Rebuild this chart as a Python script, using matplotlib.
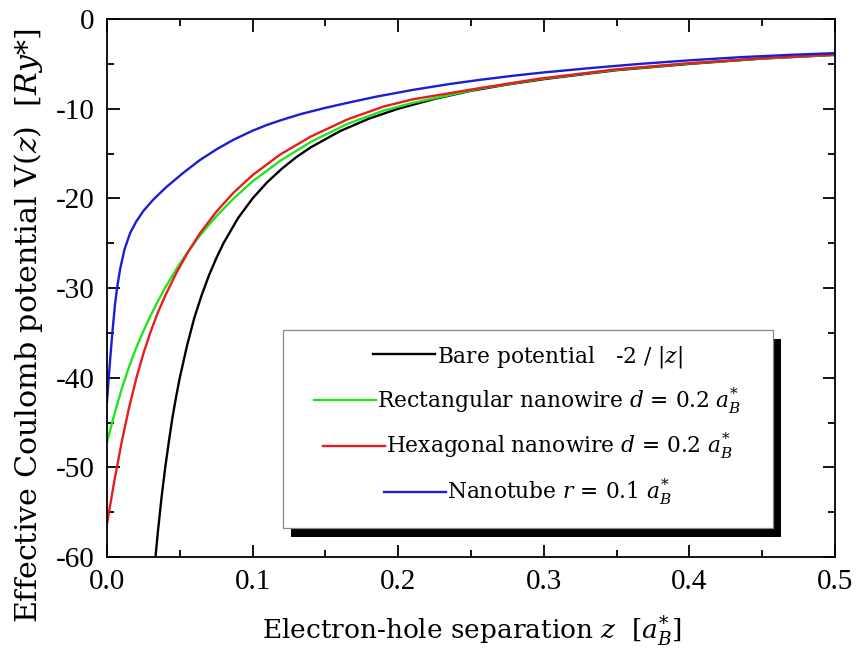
import matplotlib
matplotlib.use("Agg")
import matplotlib.pyplot as plt
from matplotlib.patches import Rectangle

# values
bare_z = [0.0333, 0.035, 0.0375, 0.04, 0.0425, 0.045, 0.0475, 0.05, 0.055, 0.06, 0.065, 0.07,
          0.075, 0.08, 0.09, 0.1, 0.11, 0.12, 0.13, 0.14, 0.16, 0.18, 0.2, 0.225, 0.25, 0.275,
          0.3, 0.35, 0.4, 0.45, 0.5]
bare_v = [-60.0, -57.1, -53.3, -50.0, -47.1, -44.4, -42.1, -40.0, -36.4, -33.3, -30.8, -28.6,
          -26.7, -25.0, -22.2, -20.0, -18.2, -16.7, -15.4, -14.3, -12.5, -11.1, -10.0, -8.9,
          -8.0, -7.3, -6.7, -5.7, -5.0, -4.4, -4.0]

rect_z = [0.0, 0.005, 0.01, 0.015, 0.02, 0.025, 0.03, 0.035, 0.04, 0.048, 0.056, 0.064,
          0.075, 0.087, 0.1, 0.119, 0.14, 0.165, 0.19, 0.21, 0.256, 0.297, 0.35, 0.4, 0.45, 0.5]
rect_v = [-47.2, -44.1, -41.3, -38.85, -36.7, -34.8, -33.05, -31.45, -29.95, -27.8, -25.85,
          -24.1, -22.0, -20.0, -18.1, -15.8, -13.7, -11.7, -10.2, -9.35, -7.75, -6.7, -5.65,
          -4.95, -4.4, -3.98]

hex_z = [0.0, 0.005, 0.01, 0.015, 0.02, 0.025, 0.03, 0.035, 0.04, 0.048, 0.056, 0.064,
         0.075, 0.087, 0.1, 0.119, 0.14, 0.165, 0.19, 0.21, 0.256, 0.297, 0.35, 0.4, 0.45, 0.5]
hex_v = [-56.3, -51.55, -47.25, -43.45, -40.15, -37.3, -34.85, -32.7, -30.85, -28.2, -25.9,
         -23.85, -21.5, -19.35, -17.4, -15.1, -13.1, -11.2, -9.75, -8.95, -7.7, -6.65, -5.6,
         -4.92, -4.38, -3.95]

tube_z = [0.0, 0.001, 0.002, 0.003, 0.004, 0.0055, 0.007, 0.009, 0.012, 0.0158, 0.02, 0.025,
          0.032, 0.041, 0.052, 0.064, 0.076, 0.087, 0.1, 0.11, 0.12, 0.133, 0.15, 0.165, 0.185,
          0.21, 0.235, 0.256, 0.28, 0.3, 0.333, 0.366, 0.4, 0.435, 0.47, 0.5]
tube_v = [-42.7, -40.4, -38.3, -36.3, -34.4, -31.8, -29.9, -27.9, -25.7, -23.9, -22.6, -21.4,
          -20.1, -18.7, -17.2, -15.7, -14.45, -13.45, -12.45, -11.8, -11.25, -10.6, -9.9, -9.35,
          -8.65, -7.9, -7.25, -6.78, -6.3, -5.95, -5.45, -5.0, -4.6, -4.25, -3.98, -3.8]

labels = [r"Bare potential   -2 / |$z$|",
          r"Rectangular nanowire $d$ = 0.2 $a_B^{*}$",
          r"Hexagonal nanowire $d$ = 0.2 $a_B^{*}$",
          r"Nanotube $r$ = 0.1 $a_B^{*}$"]
colors = ['black', '#1ee61e', '#e81c1c', '#1c1cd4']

text_font = 'DejaVu Serif'
plt.rcParams['font.family'] = ['Liberation Serif', 'DejaVu Serif']
plt.rcParams['mathtext.fontset'] = 'custom'
plt.rcParams['mathtext.rm'] = text_font
plt.rcParams['mathtext.it'] = text_font + ':italic'
plt.rcParams['axes.unicode_minus'] = False

fig = plt.figure(figsize=(8.56, 6.58), dpi=100)
ax = fig.add_axes([0.125, 0.1535, 0.8505, 0.8175])

lw = 1.7
ax.plot(bare_z, bare_v, color=colors[0], lw=lw, label=labels[0])
ax.plot(rect_z, rect_v, color=colors[1], lw=lw, label=labels[1])
ax.plot(hex_z, hex_v, color=colors[2], lw=lw, label=labels[2])
ax.plot(tube_z, tube_v, color=colors[3], lw=lw, label=labels[3])

ax.set_xlim(0, 0.5)
ax.set_ylim(-60, 0)
ax.set_xticks([0.0, 0.1, 0.2, 0.3, 0.4, 0.5])
ax.set_xticklabels(['0.0', '0.1', '0.2', '0.3', '0.4', '0.5'])
ax.set_xticks([0.05, 0.15, 0.25, 0.35, 0.45], minor=True)
ax.set_yticks([0, -10, -20, -30, -40, -50, -60])
ax.set_yticks([-5, -15, -25, -35, -45, -55], minor=True)
ax.tick_params(which='both', direction='in', top=True, right=True, width=1.3,
               labelsize=21)
ax.tick_params(which='major', length=9, pad=9)
ax.tick_params(which='minor', length=5)
for s in ax.spines.values():
    s.set_linewidth(1.3)

xl = ax.set_xlabel(r"Electron-hole separation $z$  [$a_B^{*}$]", family=text_font, fontsize=20)
yl = ax.set_ylabel(r"Effective Coulomb potential V($z$)  [$Ry$*]", family=text_font, fontsize=20)
ax.xaxis.set_label_coords(0.501, -0.105)
ax.yaxis.set_label_coords(-0.085, 0.43)

# legend box as in the reference: plain frame with a heavy offset shadow
box_x0, box_y0, box_w, box_h = 0.2418, 0.0539, 0.673, 0.368
ax.add_patch(Rectangle((box_x0 + 0.011, box_y0 - 0.017), box_w, box_h, transform=ax.transAxes,
                       facecolor='black', edgecolor='none', zorder=4))
ax.add_patch(Rectangle((box_x0, box_y0), box_w, box_h, transform=ax.transAxes,
                       facecolor='white', edgecolor='#888888', lw=0.9, zorder=4.5))
leg = ax.legend(loc='center', bbox_to_anchor=(0.578, 0.2444), frameon=False,
                prop={'family': text_font, 'size': 16}, handlelength=2.8,
                handletextpad=0.05, labelspacing=0.7, borderpad=0, borderaxespad=0)
leg.set_zorder(5)
leg._legend_handle_box.get_children()[0].align = 'center'


def fit_size(txt, target, vertical=False):
    # scale a text so its drawn extent matches the reference
    r = fig.canvas.get_renderer()
    bb = txt.get_window_extent(r)
    cur = bb.height if vertical else bb.width
    txt.set_fontsize(txt.get_fontsize() * target / cur)


fig.canvas.draw()
fit_size(xl, 420)
fit_size(yl, 595, vertical=True)
fit_size(leg.get_texts()[1], 365)
for t in leg.get_texts():
    t.set_fontsize(leg.get_texts()[1].get_fontsize())

fig.savefig('out.png', dpi=100)
